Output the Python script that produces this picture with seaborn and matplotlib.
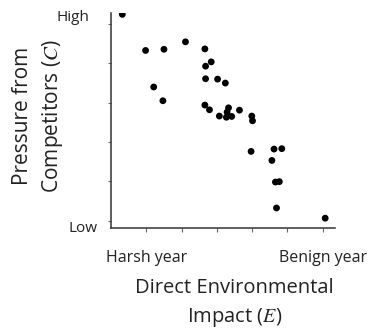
import matplotlib
matplotlib.use("Agg")
import matplotlib.pyplot as plt
import matplotlib.transforms as mtransforms
import seaborn as sns
import pandas as pd

# Data
impact = [0.32, 0.98, 1.50, 2.11, 2.66, 2.84, 2.68, 2.68, 3.02, 3.24,
          1.21, 1.47, 2.66, 2.79, 3.07, 3.33, 3.29, 3.27, 3.42, 3.64,
          3.99, 4.01, 3.97, 4.62, 4.84, 4.56, 4.66, 4.77, 4.69, 6.07]
pressure = [5.25, 4.33, 4.36, 4.55, 4.37, 4.04, 3.93, 3.61, 3.60, 3.50,
            3.40, 3.05, 2.94, 2.82, 2.66, 2.87, 2.76, 2.63, 2.65, 2.81,
            2.66, 2.54, 1.76, 1.82, 1.83, 1.53, 0.98, 0.99, 0.32, 0.06]
x_ticks = [1, 2, 3, 4, 5, 6]
x_tick_labels = ["Harsh year", "", "", "", "", "Benign year"]
y_ticks = [0, 1, 2, 3, 4, 5]
y_end_labels = ["Low", "High"]
x_title = "Direct Environmental\nImpact ($E$)"
y_title = "Pressure from\nCompetitors ($C$)"

sns.set_theme(style="ticks")
plt.rcParams["font.family"] = ["Open Sans", "DejaVu Sans"]
plt.rcParams["mathtext.fontset"] = "stix"

df = pd.DataFrame({"impact": impact, "pressure": pressure})

fig = plt.figure(figsize=(3.67, 3.29), dpi=100)
ax = fig.add_axes([0.3025, 0.307, 0.6105, 0.653])
sns.scatterplot(data=df, x="impact", y="pressure", ax=ax, color="black",
                s=24, edgecolor="none", linewidth=0)

ax.set_xlim(0, 6.35)
ax.set_ylim(-0.19, 5.28)
sns.despine(ax=ax)
for side in ["left", "bottom"]:
    ax.spines[side].set_color("#333333")
    ax.spines[side].set_linewidth(1.1)

ax.set_xticks(x_ticks)
ax.set_xticklabels(x_tick_labels, fontsize=11.5)
ax.tick_params(axis="x", length=3, width=0.8, color="#666666", pad=13,
               labelcolor="#222222")
ax.set_yticks(y_ticks)
ax.set_yticklabels([])
ax.tick_params(axis="y", length=2.5, width=0.8, color="#666666")

trans = mtransforms.blended_transform_factory(ax.transAxes, ax.transData)
ax.text(-0.062, -0.21, y_end_labels[0], transform=trans, ha="right",
        va="center", fontsize=11, color="#222222")
ax.text(-0.095, 5.18, y_end_labels[1], transform=trans, ha="right",
        va="center", fontsize=11, color="#222222")

ax.set_xlabel(x_title, fontsize=14.5, color="#222222", linespacing=1.45)
ax.xaxis.set_label_coords(0.55, -0.235)
ax.set_ylabel(y_title, fontsize=15, color="#222222", linespacing=1.4)
ax.yaxis.set_label_coords(-0.205, 0.52)

fig.savefig("out.png", dpi=100)
